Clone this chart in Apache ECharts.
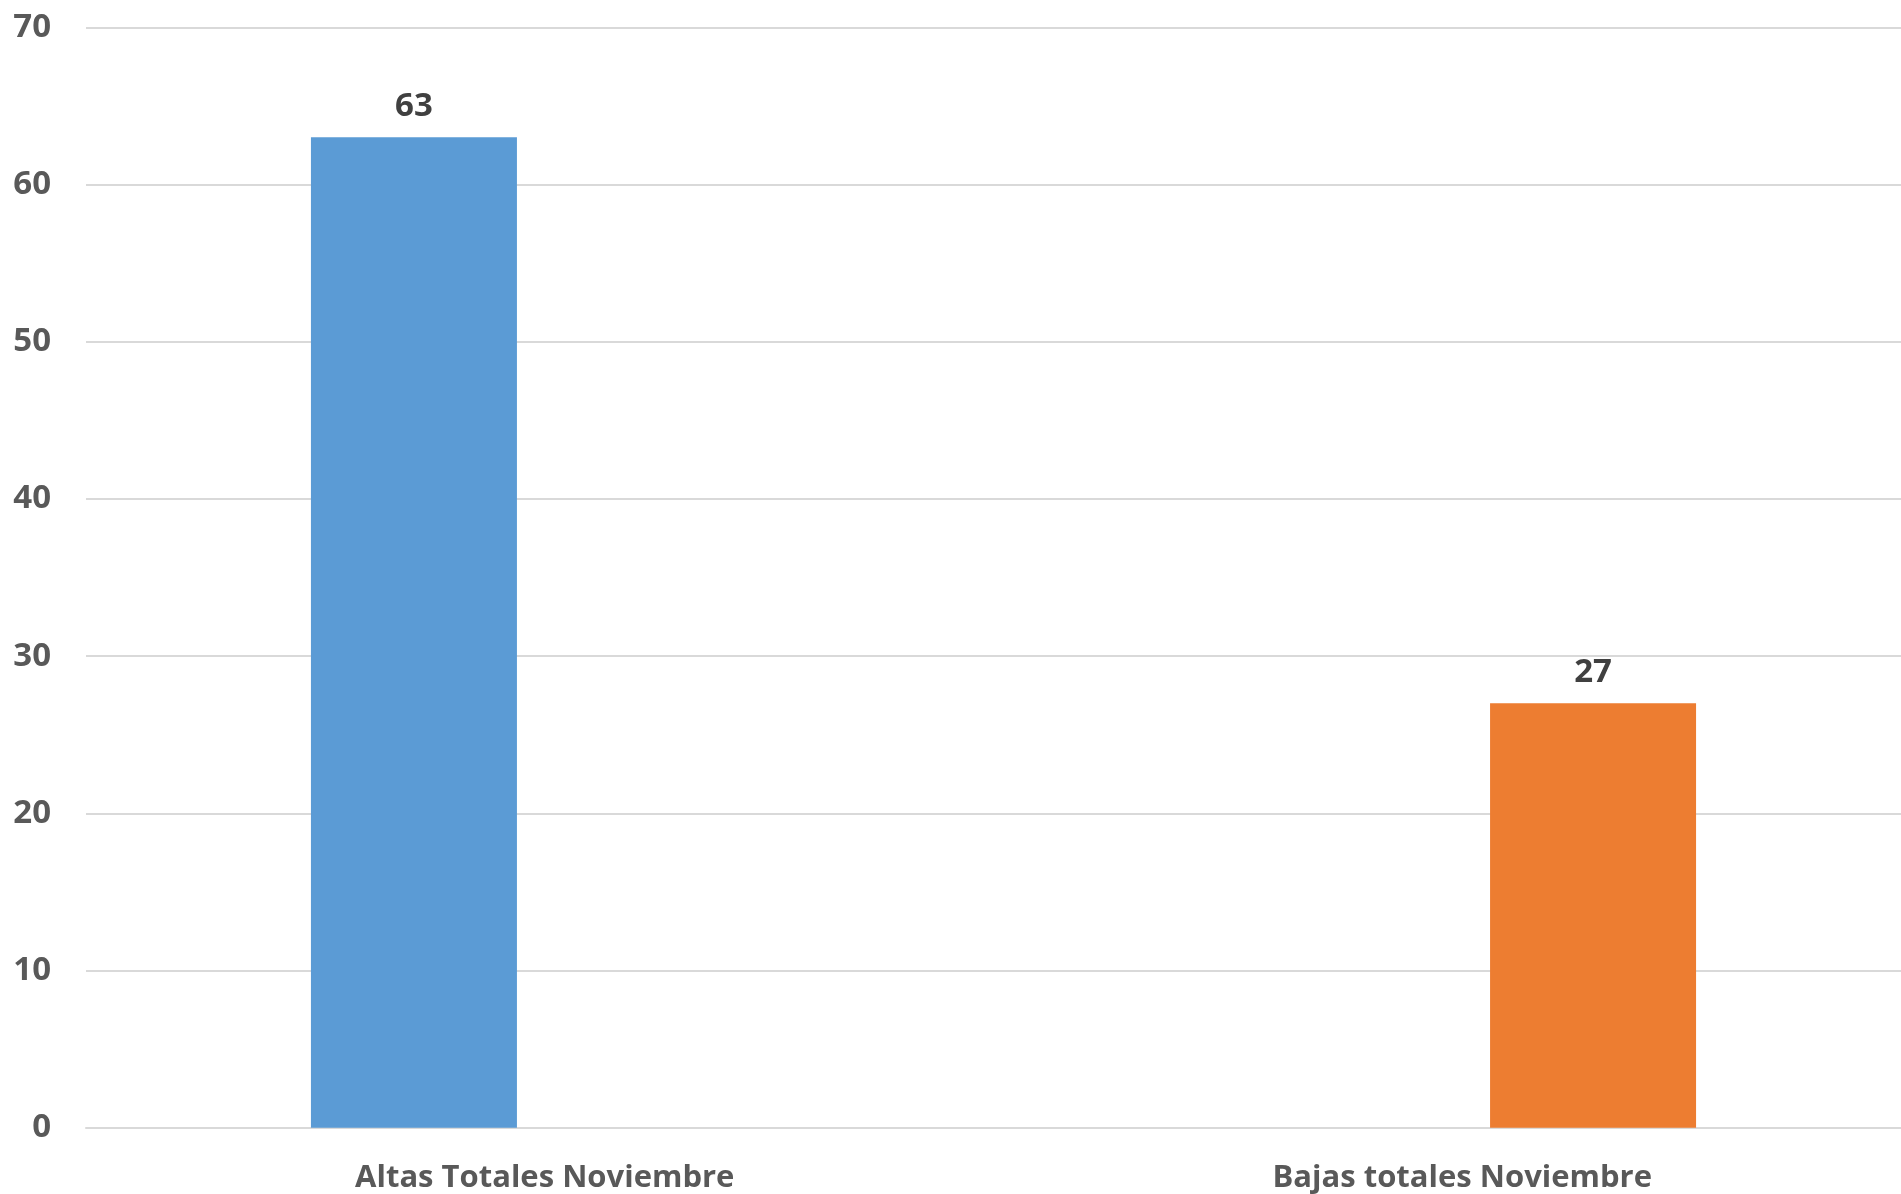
<!DOCTYPE html>
<html>
<head>
<meta charset="utf-8">
<script src="https://cdn.jsdelivr.net/npm/echarts@6/dist/echarts.min.js"></script>
<style>
html,body{margin:0;padding:0;background:#fff;}
#chart{width:1901px;height:1194px;}
</style>
</head>
<body>
<div id="chart"></div>
<script>
const categories = ['Altas Totales Noviembre', 'Bajas totales Noviembre'];
const altasValues = [63, null];
const bajasValues = [null, 27];
const yMin = 0, yMax = 70, yInterval = 10;

const FONT = '"Open Sans"';
const chart = echarts.init(document.getElementById('chart'), null, {renderer: 'canvas'});
chart.setOption({
  animation: false,
  backgroundColor: '#ffffff',
  grid: {left: 86, right: -20, top: 27.3, bottom: 66.3, containLabel: false, outerBoundsMode: 'none'},
  xAxis: {
    type: 'category',
    data: categories,
    axisLine: {show: true, lineStyle: {color: '#d9d9d9', width: 2}},
    axisTick: {show: false},
    axisLabel: {color: '#595959', fontFamily: FONT, fontWeight: 'bold', fontSize: 31, margin: 35}
  },
  yAxis: {
    type: 'value',
    min: yMin, max: yMax, interval: yInterval,
    axisLine: {show: false},
    axisTick: {show: false},
    splitLine: {lineStyle: {color: '#d9d9d9', width: 2}},
    axisLabel: {color: '#595959', fontFamily: FONT, fontWeight: 'bold', fontSize: 33, margin: 35}
  },
  series: [
    {
      name: 'Altas', type: 'bar', data: altasValues,
      barWidth: 206, barGap: '27%',
      itemStyle: {color: '#5b9bd5'},
      label: {show: true, position: 'top', distance: 14, color: '#404040', fontFamily: FONT, fontWeight: 'bold', fontSize: 33}
    },
    {
      name: 'Bajas', type: 'bar', data: bajasValues,
      barWidth: 206, barGap: '27%',
      itemStyle: {color: '#ed7d31'},
      label: {show: true, position: 'top', distance: 14, color: '#404040', fontFamily: FONT, fontWeight: 'bold', fontSize: 33}
    }
  ]
});
</script>
</body>
</html>
